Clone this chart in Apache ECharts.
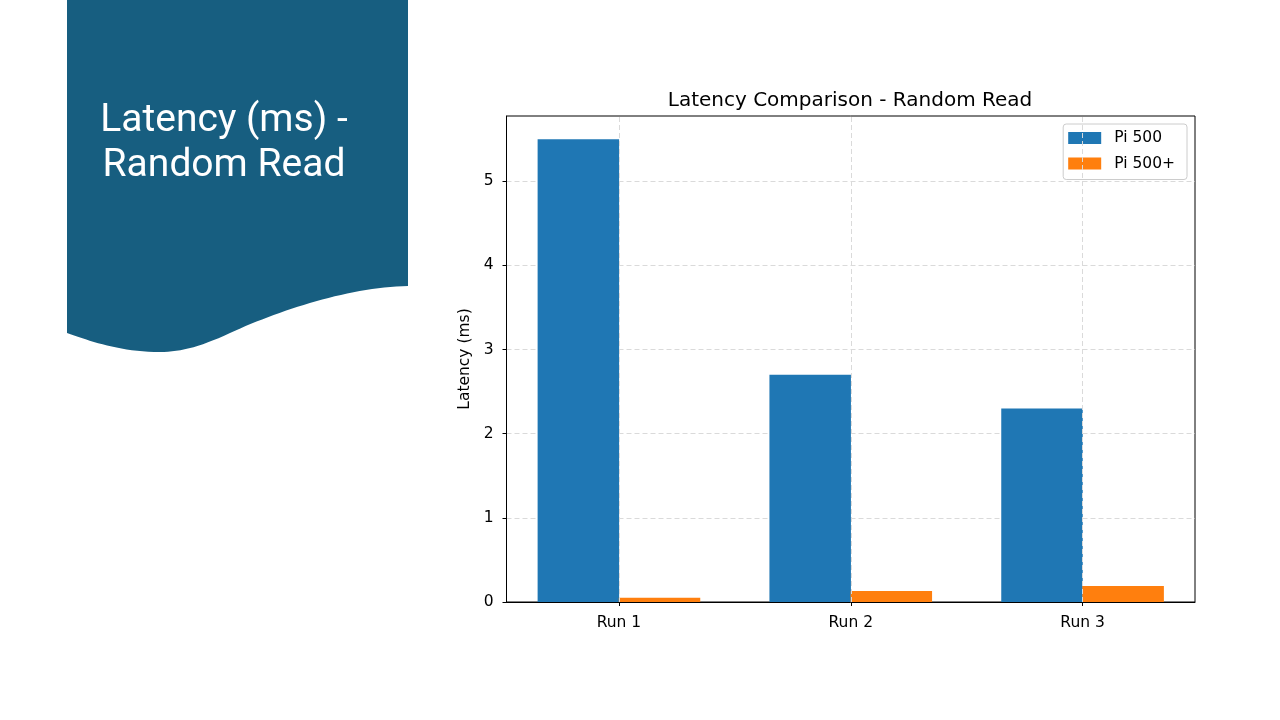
<!DOCTYPE html>
<html>
<head>
<meta charset="utf-8">
<script src="https://cdn.jsdelivr.net/npm/echarts@6/dist/echarts.min.js"></script>
<style>
html,body{margin:0;padding:0;background:#fff;}
#c{width:1280px;height:720px;}
</style>
</head>
<body>
<div id="c"></div>
<script>
const categories = ['Run 1', 'Run 2', 'Run 3'];
const pi500 = [5.5, 2.7, 2.3];
const pi500plus = [0.05, 0.13, 0.19];
const seriesNames = ['Pi 500', 'Pi 500+'];
const yTicks = [0, 1, 2, 3, 4, 5];

// decorative slide banner outline (cubic bezier segments sampled into a polygon)
function bezierPts(p0, p1, p2, p3, n) {
  const out = [];
  for (let i = 1; i <= n; i++) {
    const t = i / n, u = 1 - t;
    out.push([
      u*u*u*p0[0] + 3*u*u*t*p1[0] + 3*u*t*t*p2[0] + t*t*t*p3[0],
      u*u*u*p0[1] + 3*u*u*t*p1[1] + 3*u*t*t*p2[1] + t*t*t*p3[1]
    ]);
  }
  return out;
}
const bannerPts = [[67, 0], [408, 0], [408, 286]]
  .concat(bezierPts([408, 286], [350, 287], [280, 310], [230, 333], 30))
  .concat(bezierPts([230, 333], [200, 347], [180, 352], [160, 352], 15))
  .concat(bezierPts([160, 352], [120, 352], [90, 341], [67, 333], 20));

const chart = echarts.init(document.getElementById('c'));
const font = 'DejaVu Sans';
const dash = {color: '#dadada', width: 1, type: [5, 3]};
const yMax = Math.max(...pi500, ...pi500plus) * 1.05;

// matplotlib-style grouped bars: width 0.35 each, placed either side of the category index
const barW = 0.35;
const catIdx = categories.map((c, i) => i);
const xMin = -barW - 0.05 * (categories.length - 1 + 2 * barW);
const xMax = categories.length - 1 + barW + 0.05 * (categories.length - 1 + 2 * barW);

chart.setOption({
  animation: false,
  textStyle: {fontFamily: font},
  graphic: [
    {
      type: 'polygon',
      z: 0,
      shape: {points: bannerPts},
      style: {fill: '#175e80'}
    },
    {
      type: 'text', x: 224, y: 99, z: 1,
      style: {text: 'Latency (ms) -\nRandom Read', fill: '#fff', font: '39px Roboto', align: 'center', verticalAlign: 'top', lineHeight: 45}
    }
  ],
  title: {
    text: 'Latency Comparison - Random Read',
    left: 845, top: 86, textAlign: 'center',
    textStyle: {fontFamily: font, fontSize: 20, fontWeight: 'normal', color: '#000'}
  },
  legend: {
    data: seriesNames,
    orient: 'vertical',
    right: 93, top: 124,
    backgroundColor: '#fff',
    borderColor: '#cccccc', borderWidth: 1, borderRadius: 3,
    padding: [6, 12, 8, 5],
    itemWidth: 33, itemHeight: 12, itemGap: 9.5,
    icon: 'rect',
    textStyle: {fontFamily: font, fontSize: 15.5, color: '#000', padding: [0, 0, 0, 8]}
  },
  grid: {left: 506.5, right: 85, top: 116, bottom: 118, show: true, borderColor: '#000', borderWidth: 1, containLabel: false},
  xAxis: {
    type: 'value',
    min: xMin, max: xMax,
    axisLine: {show: true, onZero: false, lineStyle: {color: '#000', width: 1}},
    axisTick: {show: true, length: 4, lineStyle: {color: '#000'}, customValues: catIdx},
    axisLabel: {color: '#000', fontSize: 15.5, fontFamily: font, margin: 13, customValues: catIdx,
      formatter: v => categories[Math.round(v)] || ''},
    splitLine: {show: false}
  },
  yAxis: {
    type: 'value',
    min: 0, max: yMax, interval: 1,
    name: 'Latency (ms)', nameLocation: 'middle', nameGap: 31,
    nameTextStyle: {color: '#000', fontSize: 15.5, fontFamily: font},
    axisLine: {show: true, onZero: false, lineStyle: {color: '#000', width: 1}},
    axisTick: {show: true, length: 4, lineStyle: {color: '#000'}, customValues: yTicks},
    axisLabel: {color: '#000', fontSize: 15.5, fontFamily: font, margin: 13, customValues: yTicks},
    splitLine: {show: true, lineStyle: dash}
  },
  series: [
    {
      name: 'grid-x', type: 'line', data: [], z: 0, silent: true,
      markLine: {
        silent: true, symbol: 'none', label: {show: false},
        lineStyle: dash,
        data: catIdx.map(i => ({xAxis: i}))
      }
    },
    {name: seriesNames[0], type: 'bar', data: pi500.map((v, i) => [i - barW / 2, v]), barWidth: 81.5, barGap: '-100%', itemStyle: {color: '#1f77b4'}, z: 2},
    {name: seriesNames[1], type: 'bar', data: pi500plus.map((v, i) => [i + barW / 2, v]), barWidth: 81.5, barGap: '-100%', itemStyle: {color: '#ff7f0e'}, z: 2}
  ]
});
</script>
</body>
</html>
